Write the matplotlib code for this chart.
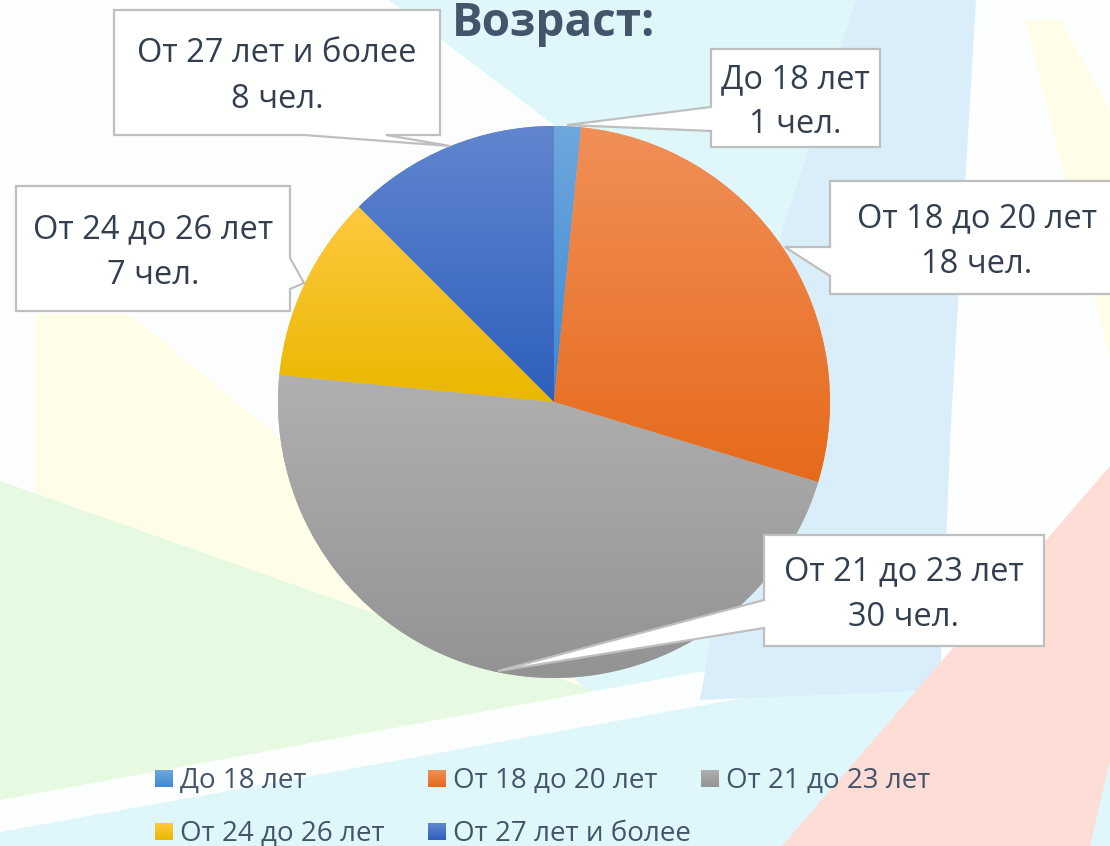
import matplotlib
matplotlib.use('Agg')
import matplotlib.pyplot as plt
import numpy as np
from matplotlib.patches import Polygon, Rectangle
from matplotlib.colors import to_rgb

W, H = 1110, 846

title = 'Возраст:'
categories = ['До 18 лет', 'От 18 до 20 лет', 'От 21 до 23 лет',
              'От 24 до 26 лет', 'От 27 лет и более']
counts = [1, 18, 30, 7, 8]
unit = 'чел.'

# gradient colours (top -> bottom) per slice
top_colors = ['#6EA7DE', '#F18F58', '#B0B0B0', '#FFC93F', '#6186CF']
bottom_colors = ['#3F88D2', '#E66A1A', '#939393', '#EAB700', '#2E5FBD']

plt.rcParams['font.family'] = ['Open Sans', 'DejaVu Sans']

fig = plt.figure(figsize=(W / 100, H / 100), dpi=100)
ax = fig.add_axes([0, 0, 1, 1])

# decorative background (pixel coords)
background = [
    ('#DFF7FA', [(0, 0), (W, 0), (W, H), (0, H)]),
    ('#FCFEFE', [(0, 0), (389, 0), (600, 160), (420, 560), (0, 520)]),
    ('#FEFEE8', [(35, 314), (130, 314), (330, 480), (600, 700), (35, 700)]),
    ('#E5FAE0', [(0, 481), (620, 700), (0, 806)]),
    ('#FDFEFE', [(0, 800), (1010, 615), (1010, 650), (0, 832)]),
    ('#D9EEF8', [(856, 0), (976, 0), (951, 423), (940, 690), (700, 700), (782, 233)]),
    ('#FDFEFE', [(976, 0), (W, 0), (W, 466), (940, 690), (951, 423)]),
    ('#FEFDE8', [(1025, 20), (1060, 20), (W, 110), (W, 360)]),
    ('#FDDDD6', [(W, 466), (W, 760), (1090, H), (782, H)]),
]
for col, pts in background:
    ax.add_patch(Polygon(pts, closed=True, fc=col, ec='none', zorder=0))


def gradient_fill(patch, c_top, c_bot, z):
    ext = patch.get_path().transformed(patch.get_patch_transform()).get_extents()
    t = np.linspace(0, 1, 256)[:, None]
    a, b = np.array(to_rgb(c_top)), np.array(to_rgb(c_bot))
    img = (a * (1 - t) + b * t)[:, None, :]
    im = ax.imshow(img, extent=(ext.x0, ext.x1, ext.y1, ext.y0), origin='upper',
                   aspect='auto', interpolation='bilinear', zorder=z)
    im.set_clip_path(patch)


wedges, _ = ax.pie(counts, colors=top_colors, startangle=-90, counterclock=True,
                   center=(554, 402), radius=276, wedgeprops=dict(linewidth=0))
for w, ct, cb in zip(wedges, top_colors, bottom_colors):
    gradient_fill(w, ct, cb, 2)


def callout(box, base, tip, text):
    x0, y0, x1, y1 = box
    corners = [(x0, y0), (x1, y0), (x1, y1), (x0, y1)]
    (bx1, by1), (bx2, by2) = base
    if bx1 == bx2 == x0:
        i, key, rev = 3, 1, True
    elif bx1 == bx2 == x1:
        i, key, rev = 1, 1, False
    elif by1 == by2 == y1:
        i, key, rev = 2, 0, True
    else:
        i, key, rev = 0, 0, False
    p, q = sorted(base, key=lambda v: v[key], reverse=rev)
    verts = corners[:i + 1] + [p, tip, q] + corners[i + 1:]
    ax.add_patch(Polygon(verts, closed=True, fc='white', ec='#BFBFBF', lw=1.6,
                         zorder=3, joinstyle='miter'))
    ax.text((x0 + x1) / 2, (y0 + y1) / 2 + 4, text, ha='center', va='center',
            fontsize=23.5, color='#333F4F', linespacing=1.5, zorder=4)


# label boxes: (left, top, right, bottom), pointer base, pointer tip
boxes = [
    ((711, 49, 880, 147), [(711, 107), (711, 131)], (567, 125)),
    ((830, 181, 1124, 294), [(830, 247), (830, 276)], (785, 247)),
    ((764, 535, 1044, 646), [(764, 600), (764, 628)], (498, 671)),
    ((16, 186, 290, 311), [(290, 258), (290, 289)], (304, 283)),
    ((114, 10, 440, 135), [(304, 135), (386, 135)], (450, 146)),
]
for (box, base, tip), cat, n in zip(boxes, categories, counts):
    callout(box, base, tip, f'{cat}\n{n} {unit}')

ax.text(554, 36, title, ha='center', va='baseline', fontsize=33,
        fontweight='bold', color='#44546A', zorder=5)

# legend, 3 columns
leg_x = [155, 428, 701]
leg_base = [788, 841]
for i, (cat, ct, cb) in enumerate(zip(categories, top_colors, bottom_colors)):
    r, c = divmod(i, 3)
    sq = Rectangle((leg_x[c], leg_base[r] - 18), 18, 17, fc=ct, ec='none', zorder=3)
    ax.add_patch(sq)
    gradient_fill(sq, ct, cb, 3.5)
    ax.text(leg_x[c] + 25, leg_base[r], cat, ha='left', va='baseline',
            fontsize=20, color='#44546A', zorder=4)

ax.set_xlim(0, W)
ax.set_ylim(H, 0)
ax.set_aspect('auto')
ax.axis('off')

fig.savefig('out.png', dpi=100)
